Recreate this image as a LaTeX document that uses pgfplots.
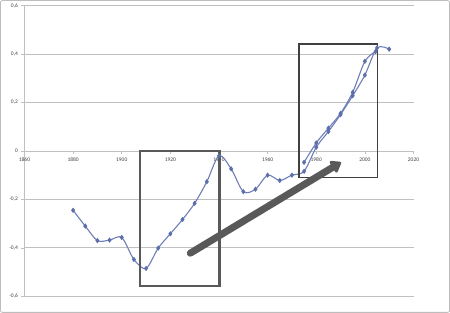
\documentclass[border=0pt]{standalone}
\usepackage{fontspec}
\setmainfont{Carlito}
\usepackage{pgfplots}
\pgfplotsset{compat=1.18}
\usetikzlibrary{arrows.meta}
\definecolor{gridgray}{HTML}{C0C0C0}
\definecolor{framegray}{HTML}{BDBDBD}
\definecolor{serblue}{HTML}{6E7EB6}
\definecolor{markblue}{HTML}{5D6FAA}
\definecolor{boxgray}{HTML}{595959}
\definecolor{box2gray}{HTML}{404040}
\definecolor{txtgray}{HTML}{404040}
\begin{document}
\begin{tikzpicture}
\begin{axis}[
  scale only axis, width=388bp, height=290bp,
  xmin=1860, xmax=2020, ymin=-0.6, ymax=0.6,
  axis x line=middle, axis y line=left,
  axis line style={gridgray,-,line width=0.7bp},
  xtick={1860,1880,...,2020},
  ytick={-0.6,-0.4,-0.2,0,0.2,0.4,0.6},
  ymajorgrids, grid style={gridgray,line width=0.7bp},
  tick style={gridgray,line width=0.6bp},
  major tick length=3bp,
  tick align=outside,
  hide obscured x ticks=false,
  hide obscured y ticks=false,
  /pgf/number format/assume math mode=true,
  /pgf/number format/use comma,
  /pgf/number format/1000 sep={},
  ticklabel style={font=\fontsize{5.5}{6}\selectfont, text=txtgray},
  xticklabel style={/pgf/number format/1000 sep={}},
  clip=false,
]
\addplot[serblue, line width=1.1bp, smooth, mark=diamond*, mark size=1.8bp,
  mark options={fill=markblue, draw=markblue}] coordinates {
 (1880,-0.245) (1885,-0.31) (1890,-0.37) (1895,-0.368) (1900,-0.357)
 (1905,-0.448) (1910,-0.485) (1915,-0.401) (1920,-0.342) (1925,-0.283)
 (1930,-0.216) (1935,-0.127) (1940,-0.02) (1945,-0.074) (1950,-0.168)
 (1955,-0.158) (1960,-0.100) (1965,-0.122) (1970,-0.100) (1975,-0.084)
 (1980,0.015) (1985,0.080) (1990,0.150) (1995,0.228) (2000,0.313)
 (2005,0.425) (2010,0.42)
};
\addplot[serblue, line width=1.1bp, smooth, mark=diamond*, mark size=1.8bp,
  mark options={fill=markblue, draw=markblue}] coordinates {
 (1975,-0.047) (1980,0.033) (1985,0.094) (1990,0.155) (1995,0.242)
 (2000,0.370) (2004.4,0.410)
};
\draw[line width=2.2bp, boxgray] (axis cs:1907.5,0) rectangle (axis cs:1940.2,-0.556);
\draw[line width=1.3bp, box2gray] (axis cs:1972.9,0.441) rectangle (axis cs:2005.3,-0.111);
\draw[line width=7bp, boxgray, line cap=round, -{Triangle[length=11bp,width=15bp,round]}]
  (axis cs:1928.2,-0.422) -- (axis cs:1990.2,-0.047);
\draw[framegray, line width=0.8bp, rounded corners=2bp]
  ([xshift=-24bp,yshift=-16bp]rel axis cs:0,0) rectangle ([xshift=36bp,yshift=5bp]rel axis cs:1,1);
\end{axis}
\end{tikzpicture}
\end{document}
